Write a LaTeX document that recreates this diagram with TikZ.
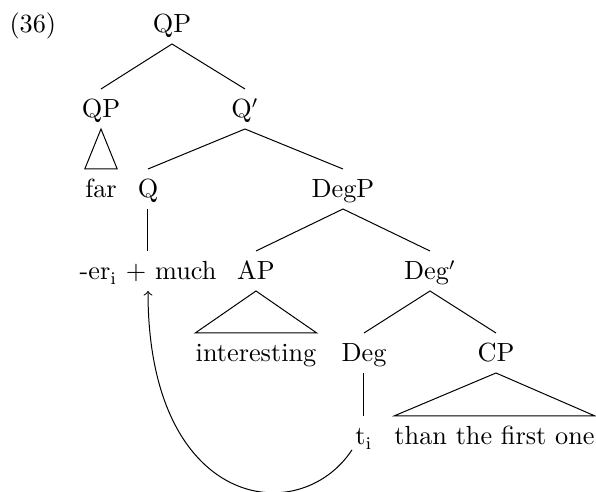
\documentclass[tikz,border=0pt]{standalone}
\usetikzlibrary{calc}
\begin{document}
\begin{tikzpicture}[x=0.4pt,y=-0.4pt,
  lbl/.style={inner sep=0pt, text height=7.2pt, text depth=0pt, outer ysep=4.4pt, anchor=base,
    font=\fontsize{10.5}{12.6}\selectfont},
  edge/.style={line width=0.4pt}]
\useasboundingbox (0,0) rectangle (596,492);
\node[lbl, anchor=base west] (ex) at (9,33) {(36)};
\node[lbl] (qp0) at (172,33) {QP};
\node[lbl] (qp1) at (101,118) {QP};
\node[lbl] (qbar) at (245,118) {Q$'$};
\node[lbl] (far) at (101,198) {far};
\node[lbl] (q) at (148,198) {Q};
\node[lbl] (degp) at (343,198) {DegP};
\node[lbl] (much) at (148,280) {-er$_{\mathrm{i}}$ + much};
\node[lbl] (ap) at (256,280) {AP};
\node[lbl] (degbar) at (430,280) {Deg$'$};
\node[lbl] (int) at (256,362) {interesting};
\node[lbl] (deg) at (364,362) {Deg};
\node[lbl] (cp) at (496,362) {CP};
\node[lbl] (t) at (364,445) {t$_{\mathrm{i}}$};
\node[lbl] (than) at (494.5,445) {than the first one};

\draw[edge] (qp1.north) -- (qp0.south) -- (qbar.north);
\draw[edge] (q.north) -- (qbar.south) -- (degp.north);
\draw[edge] (ap.north) -- (degp.south) -- (degbar.north);
\draw[edge] (deg.north) -- (degbar.south) -- (cp.north);
\draw[edge] (q.south) -- (much.north);
\draw[edge] (deg.south) -- (t.north);
\draw[edge] (far.north west) -- (qp1.south) -- (far.north east) -- cycle;
\draw[edge] (int.north west) -- (ap.south) -- (int.north east) -- cycle;
\draw[edge] (than.north west) -- (cp.south) -- (than.north east) -- cycle;
\draw[edge,->] ($(t.base west)+(-3,5)$) .. controls +(-53,80) and +(0,218) .. (much.south);
\end{tikzpicture}
\end{document}
